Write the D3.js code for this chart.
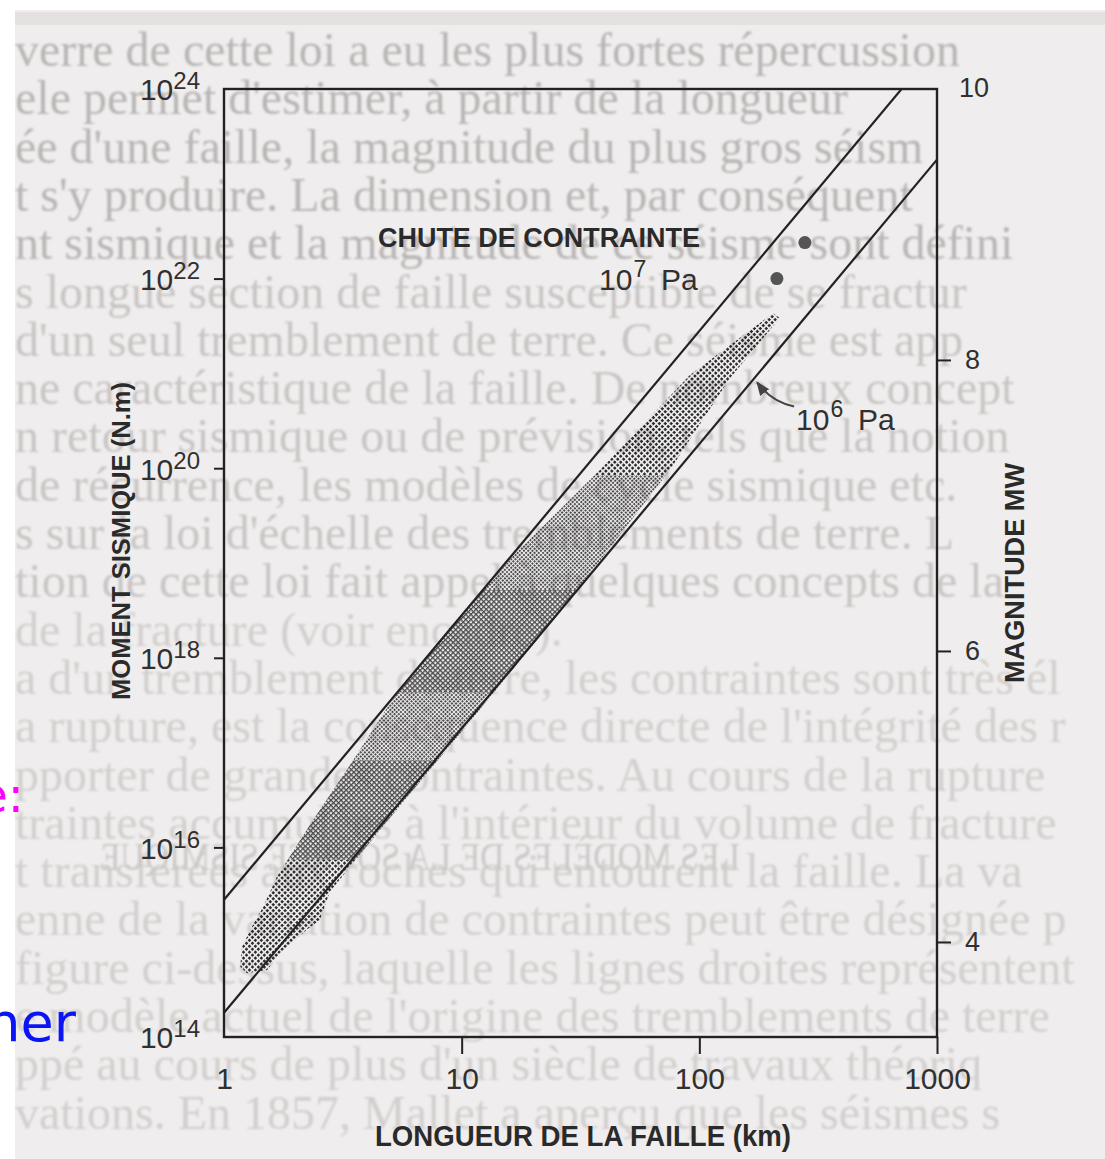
<!DOCTYPE html>
<html><head><meta charset="utf-8">
<script src="https://cdn.jsdelivr.net/npm/d3@7"></script>
<style>body{margin:0;background:#fff;} svg{display:block}</style>
</head><body><svg id="c" width="1105" height="1159"></svg>
<script>
// ---------- DATA ----------
const faultLengthTicks = [1, 10, 100, 1000];
const faultLengthTickLabels = ["1", "10", "100", "1000"];
const momentTicks = [1e14, 1e16, 1e18, 1e20, 1e22, 1e24];
const momentTickExponents = ["14", "16", "18", "20", "22", "24"];
const magnitudeTicks = [4, 6, 8];
const magnitudeTopLabel = "10";

// stress-drop lines M0 ~ L^3
const stress7L = [1, 1000];
const stress7M0 = [2.8e15, 2.8e24];
const stress6L = [1, 1000];
const stress6M0 = [1.8e14, 1.8e23];

// two large events
const eventL = [278, 212];
const eventM0 = [2.4e22, 1.0e22];

// shaded band of observed earthquakes (upper edge bottom->top, lower edge top->bottom)
const bandUpperL  = [1.17, 1.19, 1.31, 1.46, 1.67, 2.37, 3.39, 4.99, 8.93, 16.8, 38.2, 91.3, 204];
const bandUpperM0 = [5.5e14, 8.9e14, 1.45e15, 2.35e15, 4.9e15, 1.95e16, 7.4e16, 3.3e17, 2.1e18, 1.25e19, 9.6e19, 9.6e20, 4.3e21];
const bandLowerL  = [218, 134.5, 75.2, 46.3, 25.9, 10.8, 4.53, 2.79, 2.53, 2.23, 1.72, 1.52, 1.25];
const bandLowerM0 = [3.85e21, 8.9e20, 9.6e19, 1.97e19, 3.04e18, 2.1e17, 1.53e16, 3.4e15, 1.71e15, 1.35e15, 7.7e14, 5.1e14, 4.7e14];
const bandSegmentBreaksM0 = [7.4e15, 8.3e16, 4.3e17, 5.2e18, 8.5e19];

const arrowTargetL = 170;

const pageTextLines = [
"verre de cette loi a eu les plus fortes répercussion",
"ele permet d'estimer, à partir de la longueur",
"ée d'une faille, la magnitude du plus gros séism",
"t s'y produire. La dimension et, par conséquent",
"nt sismique et la magnitude de ce séisme sont défini",
"s longue section de faille susceptible de se fractur",
"d'un seul tremblement de terre. Ce séisme est app",
"ne caractéristique de la faille. De nombreux concept",
"n retour sismique ou de prévision, tels que la notion",
"de récurrence, les modèles de cycle sismique etc.",
"s sur la loi d'échelle des tremblements de terre. L",
"tion de cette loi fait appel à quelques concepts de la",
"de la fracture (voir encadré).",
"a d'un tremblement de terre, les contraintes sont très él",
"a rupture, est la conséquence directe de l'intégrité des r",
"pporter de grandes contraintes. Au cours de la rupture",
"traintes accumulées à l'intérieur du volume de fracture",
"t transférées aux roches qui entourent la faille. La va",
"enne de la variation de contraintes peut être désignée p",
"figure ci-dessus, laquelle les lignes droites représentent",
"e modèle actuel de l'origine des tremblements de terre",
"ppé au cours de plus d'un siècle de travaux théoriq",
"vations. En 1857, Mallet a aperçu que les séismes s"
];
const mirroredHeading = "LES MODÈLES DE LA SOURCE SISMIQUE";

// ---------- LAYOUT ----------
const W = 1105, H = 1159;
const P = {left: 224, right: 937, top: 89, bottom: 1037};
const svg = d3.select("#c");
const defs = svg.append("defs");

const x = d3.scaleLog().domain([1, 1000]).range([P.left, P.right]);
const y = d3.scaleLog().domain([1e14, 1e24]).range([P.bottom, P.top]);
const mw = d3.scaleLinear().domain([3.347, 9.862]).range([P.bottom, P.top]);

// page
svg.append("rect").attr("width", W).attr("height", H).attr("fill", "#ffffff");
svg.append("rect").attr("x", 15).attr("y", 10).attr("width", W - 15).attr("height", H - 10).attr("fill", "#efeded");
svg.append("rect").attr("x", 15).attr("y", 12).attr("width", W - 15).attr("height", 13).attr("fill", "#e5e1e1");

defs.append("filter").attr("id", "blur").append("feGaussianBlur").attr("stdDeviation", 1.2);

// background printed page text (faded scan)
const bg = svg.append("g").attr("filter", "url(#blur)")
  .attr("font-family", "'Liberation Serif', 'DejaVu Serif', serif").attr("font-size", 48);
bg.selectAll("text").data(pageTextLines).join("text")
  .attr("x", 15).attr("y", (d, i) => 66 + i * 48.3)
  .attr("fill", (d, i) => i < 5 ? "#bab5b5" : (i < 12 ? "#cac5c5" : "#d4cfcf"))
  .text(d => d);
bg.append("g").attr("transform", "translate(1160,0) scale(-1,1)")
  .append("text").attr("x", 420).attr("y", 870).attr("font-size", 40)
  .attr("textLength", 640).attr("lengthAdjust", "spacingAndGlyphs")
  .attr("fill", "#cdc8c8").text(mirroredHeading);

// patterns
function hatch(id, size, draw) {
  const p = defs.append("pattern").attr("id", id).attr("patternUnits", "userSpaceOnUse")
    .attr("width", size).attr("height", size).attr("patternTransform", "rotate(45)");
  draw(p, size);
}
hatch("pDots", 4.2, (p) => p.append("rect").attr("width", 2.6).attr("height", 2.6).attr("fill", "#2e2e2e"));
hatch("pCross", 3.6, (p, s) => {
  p.append("rect").attr("width", s).attr("height", 1.3).attr("fill", "#4a4a4a");
  p.append("rect").attr("width", 1.3).attr("height", s).attr("fill", "#4a4a4a");
});
hatch("pFine", 3, (p) => p.append("rect").attr("width", 1.9).attr("height", 1.9).attr("fill", "#3c3c3c"));
const segPatterns = ["pDots", "pCross", "pFine", "pCross", "pFine", "pDots"];

defs.append("clipPath").attr("id", "plotClip").append("rect")
  .attr("x", P.left).attr("y", P.top).attr("width", P.right - P.left).attr("height", P.bottom - P.top);

// band
const bandPts = bandUpperL.map((l, i) => [l, bandUpperM0[i]])
  .concat(bandLowerL.map((l, i) => [l, bandLowerM0[i]]));
const bandPath = d3.line().x(d => x(d[0])).y(d => y(d[1]))(bandPts) + "Z";
const bounds = [1e14].concat(bandSegmentBreaksM0, [1e24]);
const chart = svg.append("g");
bounds.slice(0, -1).forEach((lo, i) => {
  const hi = bounds[i + 1];
  defs.append("clipPath").attr("id", "seg" + i).append("rect")
    .attr("x", P.left).attr("width", P.right - P.left)
    .attr("y", y(hi)).attr("height", y(lo) - y(hi));
  chart.append("path").attr("d", bandPath).attr("clip-path", `url(#seg${i})`)
    .attr("fill", `url(#${segPatterns[i]})`);
});

// stress lines
const lineGen = d3.line().x(d => x(d[0])).y(d => y(d[1]));
const lines = chart.append("g").attr("clip-path", "url(#plotClip)")
  .attr("fill", "none").attr("stroke", "#222").attr("stroke-width", 2.2);
lines.append("path").attr("d", lineGen(stress7L.map((l, i) => [l, stress7M0[i]])));
lines.append("path").attr("d", lineGen(stress6L.map((l, i) => [l, stress6M0[i]])));

// events
chart.selectAll("circle.ev").data(eventL).join("circle").attr("class", "ev")
  .attr("cx", d => x(d)).attr("cy", (d, i) => y(eventM0[i])).attr("r", 6.5).attr("fill", "#555");

// frame
chart.append("rect").attr("x", P.left).attr("y", P.top).attr("width", P.right - P.left)
  .attr("height", P.bottom - P.top).attr("fill", "none").attr("stroke", "#222").attr("stroke-width", 2.4);

const FONT = "'Liberation Sans', Arial, Helvetica, sans-serif";

// left axis
const la = chart.append("g").attr("transform", `translate(${P.left},0)`)
  .call(d3.axisLeft(y).tickValues(momentTicks).tickSize(10).tickFormat(""));
la.select(".domain").remove();
la.selectAll(".tick line").attr("stroke", "#222").attr("stroke-width", 2)
  .attr("display", d => (d === 1e14 || d === 1e24) ? "none" : null);
la.selectAll(".tick").each(function(d, i) {
  const t = d3.select(this).append("text").attr("x", -24).attr("dy", "0.36em")
    .attr("text-anchor", "end").attr("fill", "#303030").attr("font-family", FONT).attr("font-size", 30);
  t.append("tspan").text("10");
  t.append("tspan").attr("dy", -11).attr("font-size", 24).text(momentTickExponents[i]);
});

// bottom axis
const ba = chart.append("g").attr("transform", `translate(0,${P.bottom})`)
  .call(d3.axisBottom(x).tickValues(faultLengthTicks).tickSize(17).tickPadding(14)
    .tickFormat((d, i) => faultLengthTickLabels[i]));
ba.select(".domain").remove();
ba.selectAll(".tick line").attr("stroke", "#222").attr("stroke-width", 2)
  .attr("display", d => d === 1 ? "none" : null);
ba.selectAll(".tick text").attr("fill", "#303030").attr("font-family", FONT).attr("font-size", 30);

// right axis
const ra = chart.append("g").attr("transform", `translate(${P.right},0)`)
  .call(d3.axisRight(mw).tickValues(magnitudeTicks).tickSize(14).tickPadding(14).tickFormat(d3.format("d")));
ra.select(".domain").remove();
ra.selectAll(".tick line").attr("stroke", "#222").attr("stroke-width", 2);
ra.selectAll(".tick text").attr("fill", "#303030").attr("font-family", FONT).attr("font-size", 27);
ra.append("text").attr("x", 22).attr("y", P.top).attr("dy", "0.3em")
  .attr("fill", "#303030").attr("font-family", FONT).attr("font-size", 27).text(magnitudeTopLabel);

// axis titles
chart.append("text").attr("transform", "translate(130,541) rotate(-90)")
  .attr("text-anchor", "middle").attr("font-family", FONT).attr("font-weight", "bold")
  .attr("font-size", 26).attr("fill", "#2a2a2a")
  .attr("textLength", 318).attr("lengthAdjust", "spacingAndGlyphs").text("MOMENT SISMIQUE (N.m)");
chart.append("text").attr("transform", "translate(1024,573) rotate(-90)")
  .attr("text-anchor", "middle").attr("font-family", FONT).attr("font-weight", "bold")
  .attr("font-size", 27).attr("fill", "#2a2a2a")
  .attr("textLength", 220).attr("lengthAdjust", "spacingAndGlyphs").text("MAGNITUDE MW");
chart.append("text").attr("x", 583).attr("y", 1146)
  .attr("text-anchor", "middle").attr("font-family", FONT).attr("font-weight", "bold")
  .attr("font-size", 29).attr("fill", "#2a2a2a")
  .attr("textLength", 416).attr("lengthAdjust", "spacingAndGlyphs").text("LONGUEUR DE LA FAILLE (km)");

// annotations
chart.append("text").attr("x", 378).attr("y", 247).attr("font-family", FONT).attr("font-weight", "bold")
  .attr("font-size", 27).attr("fill", "#2a2a2a")
  .attr("textLength", 322).attr("lengthAdjust", "spacingAndGlyphs").text("CHUTE DE CONTRAINTE");

function pa(xp, yp, exp) {
  const t = chart.append("text").attr("x", xp).attr("y", yp).attr("font-family", FONT)
    .attr("font-size", 30).attr("fill", "#303030");
  t.append("tspan").text("10");
  t.append("tspan").attr("dy", -13).attr("dx", 1).attr("font-size", 23).text(exp);
  t.append("tspan").attr("dy", 13).attr("x", xp + 62).text("Pa");
}
pa(599, 290, "7");
pa(796, 430, "6");

// arrow to 10^6 line
defs.append("marker").attr("id", "ah").attr("viewBox", "0 0 10 10").attr("refX", 9).attr("refY", 5)
  .attr("markerWidth", 7).attr("markerHeight", 7).attr("orient", "auto")
  .append("path").attr("d", "M0,1 L10,5 L0,9 Z").attr("fill", "#444");
const tx = x(arrowTargetL), ty = y(stress6M0[0] * Math.pow(arrowTargetL, 3));
chart.append("path")
  .attr("d", `M${tx + 40},${ty + 28} Q${tx + 18},${ty + 24} ${tx + 3},${ty + 4}`)
  .attr("fill", "none").attr("stroke", "#444").attr("stroke-width", 2).attr("marker-end", "url(#ah)");

// slide overlay fragments
svg.append("text").attr("x", 24).attr("y", 812).attr("text-anchor", "end")
  .attr("font-family", "'DejaVu Sans', sans-serif").attr("font-size", 48).attr("fill", "#ff00ff").text("e:");
svg.append("text").attr("x", 76).attr("y", 1041).attr("text-anchor", "end")
  .attr("font-family", "'DejaVu Sans', sans-serif").attr("font-size", 54).attr("fill", "#0a14f5").text("ner");
</script></body></html>
